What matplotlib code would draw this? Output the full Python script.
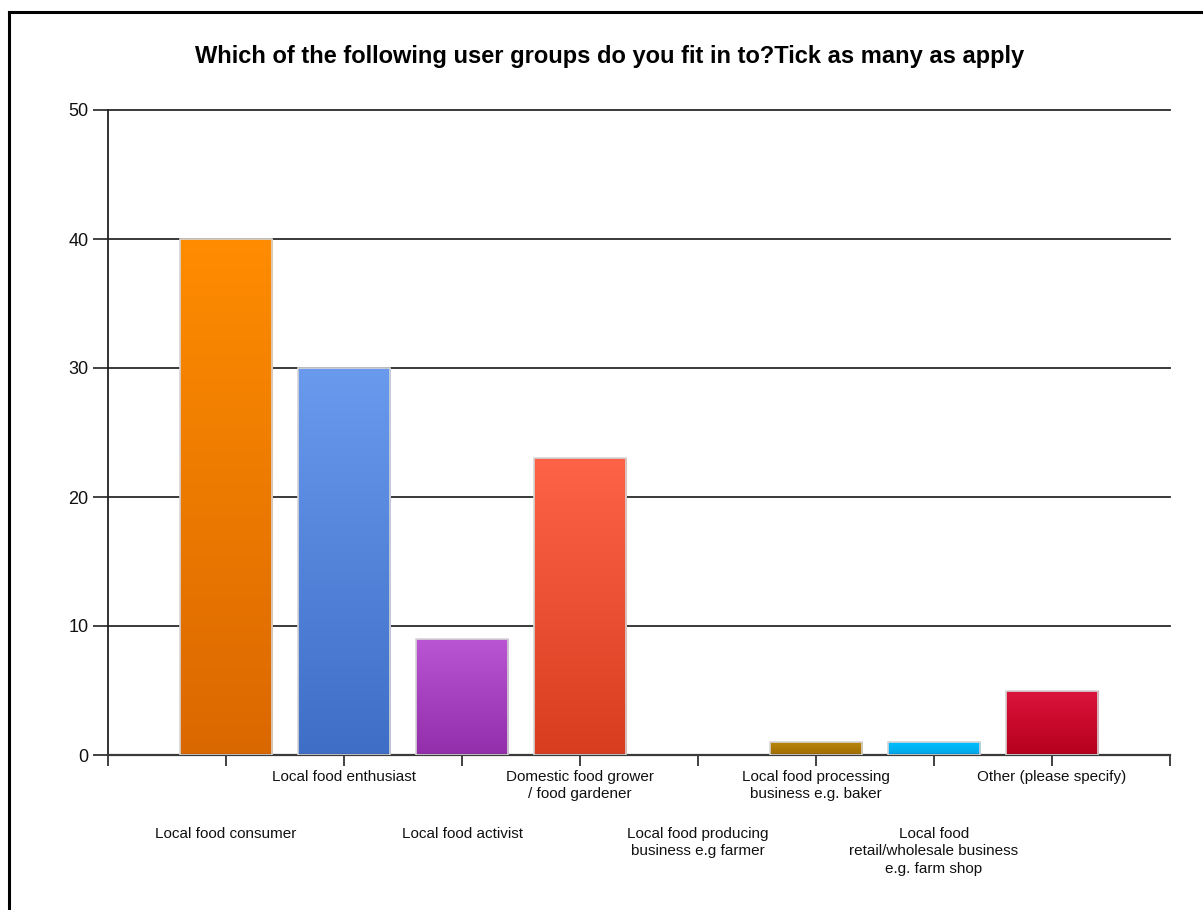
import numpy as np
import matplotlib
matplotlib.use("Agg")
import matplotlib.pyplot as plt
from matplotlib.colors import LinearSegmentedColormap
from matplotlib.lines import Line2D
from matplotlib.transforms import blended_transform_factory

# Survey responses per user group
categories = [
    "Local food consumer",
    "Local food enthusiast",
    "Local food activist",
    "Domestic food grower\n/ food gardener",
    "Local food producing\nbusiness e.g farmer",
    "Local food processing\nbusiness e.g. baker",
    "Local food\nretail/wholesale business\ne.g. farm shop",
    "Other (please specify)",
]
counts = [40, 30, 9, 23, 0, 1, 1, 5]

# Gradient colours per bar (top, bottom)
top_colors = ["#FF8C00", "#6A9AEE", "#BA55D3", "#FF6347", "#32CD32", "#B8860B", "#00BFFF", "#DC143C"]
bottom_colors = ["#DA6800", "#3E6EC6", "#922EAA", "#D93D20", "#1E9E1E", "#A26C00", "#00A6E6", "#B5001D"]

title = "Which of the following user groups do you fit in to?Tick as many as apply"
y_ticks = [0, 10, 20, 30, 40, 50]

W, H = 1203, 910
fig = plt.figure(figsize=(W / 100, H / 100), dpi=100)
fig.patch.set_facecolor("white")

# Frame lines on the left and top of the figure
fig.add_artist(Line2D([8.5 / W, 8.5 / W], [0, 1 - 12 / H], color="black", lw=2.2, transform=fig.transFigure))
fig.add_artist(Line2D([8.5 / W, 1], [1 - 12 / H, 1 - 12 / H], color="black", lw=2.2, transform=fig.transFigure))

ax_left, ax_right = 108 / W, 1170 / W
ax_bottom, ax_top = 1 - 755 / H, 1 - 110 / H
ax = fig.add_axes([ax_left, ax_bottom, ax_right - ax_left, ax_top - ax_bottom])

n = len(categories)
positions = np.arange(1, n + 1)

# Horizontal grid lines
for yv in y_ticks[1:]:
    ax.axhline(yv, color="#2a2a2a", lw=1.3, zorder=1, clip_on=False)

bar_width = 0.78
bars = ax.bar(positions, counts, width=bar_width, color="none",
              edgecolor="#D6D6D6", linewidth=1.2, zorder=3)

grad = np.linspace(0, 1, 256).reshape(-1, 1)
for rect, c_top, c_bot, val in zip(bars, top_colors, bottom_colors, counts):
    if val <= 0:
        rect.set_visible(False)
        continue
    cmap = LinearSegmentedColormap.from_list("g", [c_top, c_bot])
    x0 = rect.get_x()
    x1 = x0 + rect.get_width()
    im = ax.imshow(grad, cmap=cmap, aspect="auto", extent=[x0, x1, 0, val],
                   origin="upper", zorder=2, interpolation="bilinear")
    im.set_clip_path(rect)

ax.set_xlim(0, n + 1)
ax.set_ylim(0, 50)

for side in ["top", "right"]:
    ax.spines[side].set_visible(False)
ax.spines["left"].set_color("#222222")
ax.spines["left"].set_linewidth(1.3)
ax.spines["bottom"].set_color("#3a3a3a")
ax.spines["bottom"].set_linewidth(1.6)

ax.set_yticks(y_ticks)
ax.set_yticklabels([str(v) for v in y_ticks], fontsize=13, family="Liberation Sans", color="#111111")
ax.tick_params(axis="y", length=11, width=1.2, color="#222222", pad=3)

ax.set_xticks(np.arange(0, n + 2))
ax.set_xticklabels([])
ax.tick_params(axis="x", length=8, width=1.3, color="#333333")

# Category labels staggered on two rows
label_tf = blended_transform_factory(ax.transData, fig.transFigure)
for i, (pos, label) in enumerate(zip(positions, categories)):
    y_px = 770 if i % 2 == 1 else 827
    ax.text(pos, 1 - y_px / H, label, transform=label_tf,
            ha="center", va="top", fontsize=11, family="Liberation Sans",
            linespacing=1.3, color="#111111")

fig.text(610 / W, 1 - 56 / H, title, ha="center", va="center",
         fontsize=17, fontweight="bold", family="Liberation Sans", color="black")

fig.savefig("out.png", dpi=100, facecolor="white")
